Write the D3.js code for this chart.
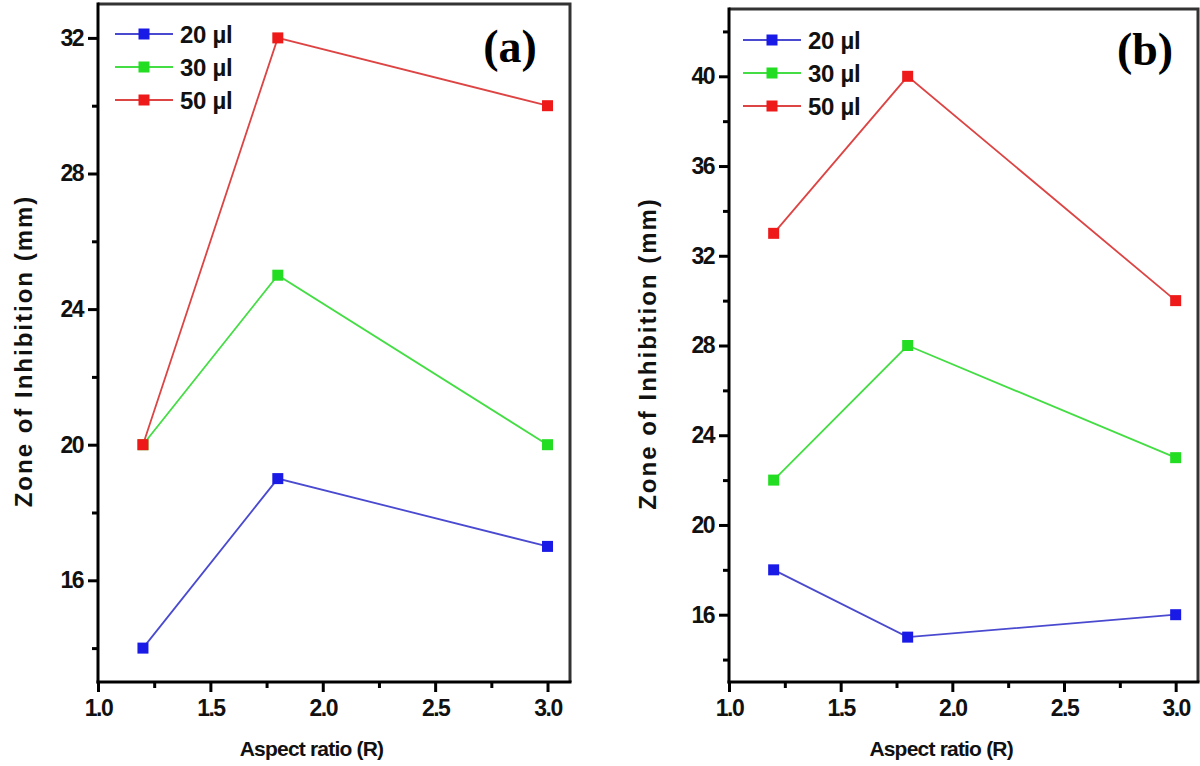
<!DOCTYPE html>
<html>
<head>
<meta charset="utf-8">
<script src="https://cdn.jsdelivr.net/npm/d3@7"></script>
<style>
  html, body { margin: 0; padding: 0; background: #fff; }
  svg text { font-family: "Liberation Sans", Arial, sans-serif; font-weight: bold; }
</style>
</head>
<body>
<svg id="chart" width="1200" height="766"></svg>
<script>
// ---- Data ----
const aspectRatios = [1.2, 1.8, 3.0];
const seriesNames = ["20 µl", "30 µl", "50 µl"];
const seriesColors = ["#1a1ae6", "#22dd22", "#ee1a1a"];
const lineColors = ["#4a4ad0", "#44dd44", "#dd4444"];

// Panel (a)
const a20 = [14, 19, 17];
const a30 = [20, 25, 20];
const a50 = [20, 32, 30];
// Panel (b)
const b20 = [18, 15, 16];
const b30 = [22, 28, 23];
const b50 = [33, 40, 30];

const xTicks = [1.0, 1.5, 2.0, 2.5, 3.0];
const xMinorTicks = [1.25, 1.75, 2.25, 2.75];
const aYTicks = [16, 20, 24, 28, 32];
const aYMinor = [14, 18, 22, 26, 30];
const bYTicks = [16, 20, 24, 28, 32, 36, 40];
const bYMinor = [14, 18, 22, 26, 30, 34, 38, 42];

const xTitle = "Aspect ratio (R)";
const yTitle = "Zone of Inhibition  (mm)";

const svg = d3.select("#chart");

function drawPanel(cfg) {
  const g = svg.append("g");
  const x = d3.scaleLinear().domain(cfg.xDomain).range([cfg.left, cfg.right]);
  const y = d3.scaleLinear().domain(cfg.yDomain).range([cfg.bottom, cfg.top]);

  // top & right frame
  g.append("path")
    .attr("d", `M${cfg.left},${cfg.top}H${cfg.right}V${cfg.bottom}`)
    .attr("fill", "none").attr("stroke", "#333").attr("stroke-width", 3);

  // minor ticks
  const xMinorAxis = d3.axisBottom(x).tickValues(xMinorTicks).tickSize(6).tickFormat("").tickSizeOuter(0);
  const gxm = g.append("g").attr("transform", `translate(0,${cfg.bottom})`).call(xMinorAxis);
  const yMinorAxis = d3.axisLeft(y).tickValues(cfg.yMinor).tickSize(6).tickFormat("").tickSizeOuter(0);
  const gym = g.append("g").attr("transform", `translate(${cfg.left},0)`).call(yMinorAxis);
  [gxm, gym].forEach(s => {
    s.select(".domain").remove();
    s.selectAll(".tick line").attr("stroke", "#000").attr("stroke-width", 3);
  });

  // major axes
  const xAxis = d3.axisBottom(x).tickValues(xTicks).tickSize(10).tickPadding(8)
    .tickFormat(d3.format(".1f")).tickSizeOuter(0);
  const gx = g.append("g").attr("transform", `translate(0,${cfg.bottom})`).call(xAxis);
  const yAxis = d3.axisLeft(y).tickValues(cfg.yTicks).tickSize(10).tickPadding(5)
    .tickFormat(d3.format("d")).tickSizeOuter(0);
  const gy = g.append("g").attr("transform", `translate(${cfg.left},0)`).call(yAxis);
  [gx, gy].forEach(s => {
    s.select(".domain").attr("stroke", "#000").attr("stroke-width", 3);
    s.selectAll(".tick line").attr("stroke", "#000").attr("stroke-width", 3);
    s.selectAll(".tick text").attr("fill", "#111")
      .style("font-size", "23px").style("letter-spacing", "-1.5px");
  });
  gy.select(".domain").attr("d", `M0,${cfg.bottom + 1.5}V${cfg.top - 1.5}`);
  gx.select(".domain").attr("d", `M${cfg.left - 1.5},0H${cfg.right + 1.5}`);

  // series
  const line = d3.line().x((d, i) => x(aspectRatios[i])).y(d => y(d));
  cfg.series.forEach((vals, si) => {
    g.append("path").datum(vals)
      .attr("d", line).attr("fill", "none")
      .attr("stroke", lineColors[si]).attr("stroke-width", 1.8);
    g.selectAll(null).data(vals).enter().append("rect")
      .attr("x", (d, i) => x(aspectRatios[i]) - 5.5)
      .attr("y", d => y(d) - 5.5)
      .attr("width", 11).attr("height", 11)
      .attr("fill", seriesColors[si]);
  });

  // legend
  seriesNames.forEach((name, si) => {
    const ly = cfg.legendY + si * 33;
    g.append("line").attr("x1", cfg.legendX).attr("x2", cfg.legendX + 58)
      .attr("y1", ly).attr("y2", ly)
      .attr("stroke", lineColors[si]).attr("stroke-width", 1.8);
    g.append("rect").attr("x", cfg.legendX + 29 - 5.5).attr("y", ly - 5.5)
      .attr("width", 11).attr("height", 11).attr("fill", seriesColors[si]);
    g.append("text").attr("x", cfg.legendX + 65).attr("y", ly)
      .attr("dy", "0.36em").attr("fill", "#111")
      .style("font-size", "24px").style("letter-spacing", "-0.3px")
      .text(name);
  });

  // panel label
  g.append("text").attr("x", cfg.labelX).attr("y", cfg.labelY)
    .attr("text-anchor", "middle")
    .style("font-family", "'Liberation Serif', 'Times New Roman', serif")
    .style("font-size", "46px").style("font-weight", "bold")
    .text(cfg.label);

  // axis titles
  g.append("text").attr("x", x(1.95)).attr("y", 756)
    .attr("text-anchor", "middle").attr("fill", "#111")
    .style("font-size", "21px").style("letter-spacing", "-0.8px")
    .text(xTitle);
  g.append("text")
    .attr("transform", `translate(${cfg.yTitleX},${(cfg.top + cfg.bottom) / 2 + 8}) rotate(-90)`)
    .attr("text-anchor", "middle").attr("fill", "#111")
    .style("font-size", "24px").style("letter-spacing", "2px")
    .text(yTitle);
}

drawPanel({
  left: 98, right: 570, top: 4, bottom: 682,
  xDomain: [1.0, 3.1], yDomain: [13, 33],
  yTicks: aYTicks, yMinor: aYMinor,
  series: [a20, a30, a50],
  legendX: 115, legendY: 34,
  label: "(a)", labelX: 510, labelY: 62,
  yTitleX: 32
});

drawPanel({
  left: 729, right: 1198, top: 9, bottom: 682,
  xDomain: [1.0, 3.1], yDomain: [13, 43],
  yTicks: bYTicks, yMinor: bYMinor,
  series: [b20, b30, b50],
  legendX: 743, legendY: 40,
  label: "(b)", labelX: 1145, labelY: 65,
  yTitleX: 656
});
</script>
</body>
</html>
